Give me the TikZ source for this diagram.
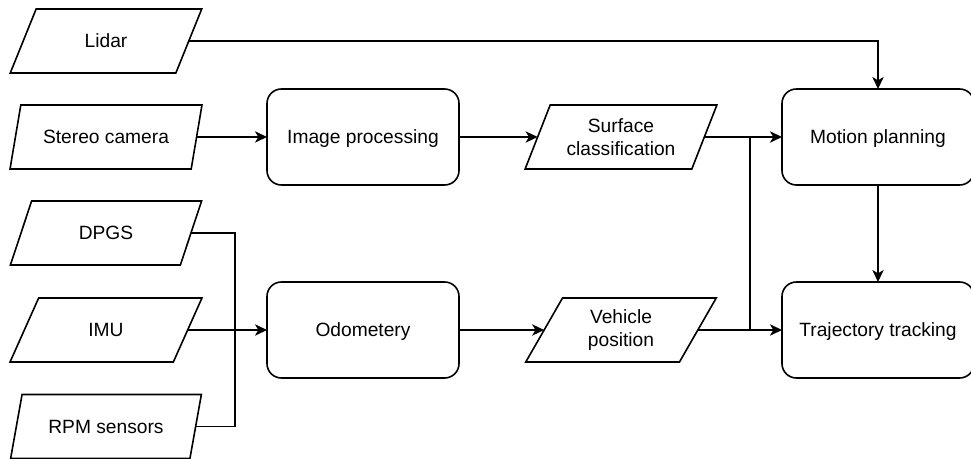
\documentclass[tikz,border=0pt]{standalone}
\usepackage{fontspec}
\setmainfont{Liberation Sans}
\usepackage{tikz}
\usetikzlibrary{positioning, arrows.meta, shapes.geometric}

\begin{document}
\begin{tikzpicture}[
    x=0.75pt, y=-0.75pt,
    >={Stealth[length=9pt, width=8.5pt, inset=2.5pt]},
    every path/.style={line width=1.2pt},
    sensor/.style={trapezium, trapezium left angle=63.4, trapezium right angle=116.6,
        trapezium stretches=true, draw, minimum width=144pt, minimum height=48pt,
        inner sep=1pt, outer sep=0pt, align=center, font=\fontsize{14.4}{17}\selectfont},
    process/.style={rectangle, rounded corners=10.8pt, draw, minimum width=144pt,
        minimum height=72pt, outer sep=0pt, text height=12.5pt, text depth=3pt,
        font=\fontsize{14.4}{17}\selectfont},
    datanode/.style={sensor}
]
\useasboundingbox (0,0) rectangle (971,459);

\node[sensor] (lidar) at (106,41) {Lidar};
\node[sensor] (stereo) at (106,137) {Stereo camera};
\node[sensor] (dpgs) at (106,233) {DPGS};
\node[sensor] (imu) at (106,330) {IMU};
\node[sensor] (rpm) at (106,426.5) {RPM sensors};

\node[process] (imgproc) at (363,137) {Image processing};
\node[process] (odom) at (363,330) {Odometery};

\node[datanode] (surface) at (621,137) {Surface\\classification};
\node[datanode] (vehicle) at (621,330) {Vehicle\\position};

\node[process] (motion) at (878,137) {Motion planning};
\node[process] (traj) at (878,330) {Trajectory tracking};

\coordinate (bus) at (235,330);
\coordinate (split) at (750,137);
\coordinate (merge) at (750,330);

\draw[->] (lidar) -| (motion);
\draw[->] (stereo) -- (imgproc);
\draw[->] (imgproc) -- (surface);
\draw[->] (surface) -- (motion);

\draw (dpgs) -| (bus);
\draw (rpm) -| (bus);
\draw[->] (imu) -- (odom);
\draw[->] (odom) -- (vehicle);
\draw[->] (vehicle) -- (traj);

\draw (split) -- (merge);
\draw[->] (motion) -- (traj);

\end{tikzpicture}
\end{document}
